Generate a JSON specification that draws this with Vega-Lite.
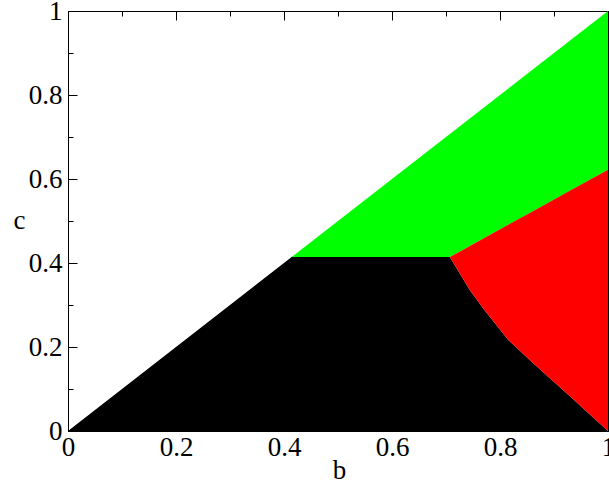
{
  "$schema": "https://vega.github.io/schema/vega-lite/v6.json",
  "autosize": "none",
  "width": 540,
  "height": 420,
  "padding": {"left": 68, "top": 11, "right": 1, "bottom": 54},
  "background": "white",
  "config": {
    "view": {"stroke": null},
    "axis": {
      "domainColor": "black", "tickColor": "black", "labelColor": "black", "titleColor": "black",
      "labelFont": "Liberation Serif", "titleFont": "Liberation Serif",
      "labelFontSize": 27, "titleFontSize": 27, "titleFontWeight": "normal",
      "grid": false, "domainWidth": 1, "tickWidth": 1
    }
  },
  "data": {"values": [
    {"region": "black", "b": 0, "lo": 0, "hi": 0},
    {"region": "black", "b": 0.4142, "lo": 0, "hi": 0.4142},
    {"region": "black", "b": 0.7071, "lo": 0, "hi": 0.4142},
    {"region": "black", "b": 0.725, "lo": 0, "hi": 0.376},
    {"region": "black", "b": 0.744, "lo": 0, "hi": 0.336},
    {"region": "black", "b": 0.77, "lo": 0, "hi": 0.29},
    {"region": "black", "b": 0.815, "lo": 0, "hi": 0.217},
    {"region": "black", "b": 0.86, "lo": 0, "hi": 0.163},
    {"region": "black", "b": 0.93, "lo": 0, "hi": 0.082},
    {"region": "black", "b": 1, "lo": 0, "hi": 0},
    {"region": "green", "b": 0.4142, "lo": 0.4142, "hi": 0.4142},
    {"region": "green", "b": 0.7071, "lo": 0.4142, "hi": 0.7071},
    {"region": "green", "b": 1, "lo": 0.622, "hi": 1},
    {"region": "red", "b": 0.7071, "lo": 0.4142, "hi": 0.4142},
    {"region": "red", "b": 0.725, "lo": 0.376, "hi": 0.4269},
    {"region": "red", "b": 0.744, "lo": 0.336, "hi": 0.4404},
    {"region": "red", "b": 0.77, "lo": 0.29, "hi": 0.4588},
    {"region": "red", "b": 0.815, "lo": 0.217, "hi": 0.4908},
    {"region": "red", "b": 0.86, "lo": 0.163, "hi": 0.5227},
    {"region": "red", "b": 0.93, "lo": 0.082, "hi": 0.5724},
    {"region": "red", "b": 1, "lo": 0, "hi": 0.622}
  ]},
  "layer": [
    {
      "mark": {"type": "area", "interpolate": "linear"},
      "encoding": {
        "x": {"field": "b", "type": "quantitative",
          "scale": {"domain": [0, 1], "nice": false, "zero": false},
          "axis": {"orient": "bottom",
            "values": [0, 0.1, 0.2, 0.3, 0.4, 0.5, 0.6, 0.7, 0.8, 0.9, 1],
            "labelExpr": "round(datum.value*10)%2==0 ? format(datum.value, '~g') : ''",
            "tickSize": {"condition": {"test": "round(datum.value*10)%2==0", "value": -9}, "value": -5},
            "labelPadding": 12, "labelFlush": false, "labelOverlap": false, "labelBound": false,
            "title": "b", "titleX": 271, "titleY": 47, "titleBaseline": "alphabetic", "titleAlign": "center", "titleAnchor": "start"}},
        "y": {"field": "hi", "type": "quantitative",
          "scale": {"domain": [0, 1], "nice": false, "zero": false},
          "axis": {"orient": "left",
            "values": [0, 0.1, 0.2, 0.3, 0.4, 0.5, 0.6, 0.7, 0.8, 0.9, 1],
            "labelExpr": "round(datum.value*10)%2==0 ? format(datum.value, '~g') : ''",
            "tickSize": {"condition": {"test": "round(datum.value*10)%2==0", "value": -9}, "value": -5},
            "labelPadding": 15, "labelFlush": false, "labelOverlap": false, "labelBound": false,
            "title": "c", "titleAngle": 0, "titleX": -49, "titleY": 217, "titleBaseline": "alphabetic", "titleAlign": "center", "titleAnchor": "start"}},
        "y2": {"field": "lo"},
        "color": {"field": "region", "type": "nominal",
          "scale": {"domain": ["black", "green", "red"], "range": ["#000000", "#00ff00", "#ff0000"]},
          "legend": null}
      }
    },
    {
      "mark": {"type": "point", "opacity": 0},
      "encoding": {
        "x": {"field": "b", "type": "quantitative",
          "axis": {"orient": "top", "values": [0, 0.1, 0.2, 0.3, 0.4, 0.5, 0.6, 0.7, 0.8, 0.9, 1],
            "labels": false, "title": null,
            "tickSize": {"condition": {"test": "round(datum.value*10)%2==0", "value": -9}, "value": -5}}},
        "y": {"field": "hi", "type": "quantitative",
          "axis": {"orient": "right", "values": [0, 0.1, 0.2, 0.3, 0.4, 0.5, 0.6, 0.7, 0.8, 0.9, 1],
            "labels": false, "title": null,
            "tickSize": {"condition": {"test": "round(datum.value*10)%2==0", "value": -9}, "value": -5}}}
      }
    }
  ],
  "resolve": {"axis": {"x": "independent", "y": "independent"}}
}
